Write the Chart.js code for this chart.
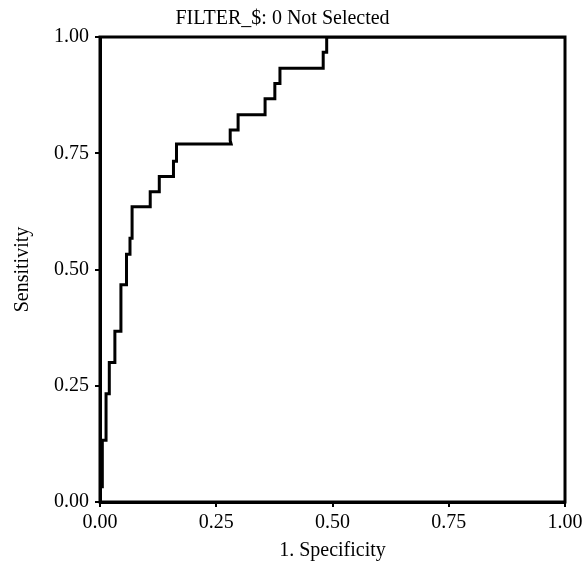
<!DOCTYPE html>
<html>
<head>
<meta charset="utf-8">
<script src="https://cdn.jsdelivr.net/npm/chart.js@4/dist/chart.umd.min.js"></script>
<style>
  html, body { margin: 0; padding: 0; background: #ffffff; }
  #wrap { width: 584px; height: 563px; }
</style>
</head>
<body>
<div id="wrap"><canvas id="c" width="584" height="563"></canvas></div>
<script>
// ROC curve corner points (1 - specificity, sensitivity)
const fpr = [0, 0, 0.005, 0.005, 0.013, 0.013, 0.020, 0.020, 0.032, 0.032, 0.045, 0.045,
             0.057, 0.057, 0.0645, 0.0645, 0.069, 0.069, 0.108, 0.108, 0.1275, 0.1275,
             0.158, 0.158, 0.1645, 0.1645, 0.282, 0.280, 0.280, 0.297, 0.297, 0.355, 0.355,
             0.376, 0.376, 0.387, 0.387, 0.480, 0.480, 0.4875, 0.4875, 1];
const tpr = [0, 0.033, 0.033, 0.133, 0.133, 0.233, 0.233, 0.300, 0.300, 0.367, 0.367, 0.467,
             0.467, 0.533, 0.533, 0.567, 0.567, 0.635, 0.635, 0.667, 0.667, 0.700,
             0.700, 0.733, 0.733, 0.770, 0.770, 0.777, 0.800, 0.800, 0.833, 0.833, 0.867,
             0.867, 0.900, 0.900, 0.933, 0.933, 0.967, 0.967, 1.000, 1.000];
const tickValues = [0, 0.25, 0.5, 0.75, 1];
const chartTitle = 'FILTER_$: 0 Not Selected';
const xTitle = '1. Specificity';
const yTitle = 'Sensitivity';

const FONT = 'Liberation Serif, Times New Roman, serif';

const framePlugin = {
  id: 'frame',
  afterDatasetsDraw(chart) {
    const a = chart.chartArea, ctx = chart.ctx;
    ctx.save();
    ctx.strokeStyle = '#000';
    ctx.lineWidth = 3;
    ctx.strokeRect(a.left, a.top, a.right - a.left, a.bottom - a.top);
    ctx.restore();
  }
};

const points = fpr.map((x, i) => ({ x: x, y: tpr[i] }));

new Chart(document.getElementById('c'), {
  type: 'scatter',
  data: {
    datasets: [{
      data: points,
      showLine: true,
      borderColor: '#000',
      borderWidth: 3,
      pointRadius: 0,
      tension: 0,
      fill: false
    }]
  },
  options: {
    responsive: false,
    animation: false,
    devicePixelRatio: 1,
    layout: { padding: { left: 0, right: 19, top: 0, bottom: 0 } },
    plugins: {
      legend: { display: false },
      tooltip: { enabled: false },
      title: {
        display: true,
        text: chartTitle,
        color: '#000',
        font: { family: FONT, size: 20, weight: 'normal' },
        padding: { top: 7, bottom: 6 }
      }
    },
    scales: {
      x: {
        type: 'linear',
        min: 0, max: 1,
        afterBuildTicks(s) { s.ticks = tickValues.map(v => ({ value: v })); },
        afterFit(s) { s.height = 61; s.paddingRight = 0; s.paddingLeft = 0; },
        ticks: {
          color: '#000',
          font: { family: FONT, size: 20 },
          padding: 4,
          maxRotation: 0,
          callback: v => Number(v).toFixed(2)
        },
        grid: { drawOnChartArea: false, tickLength: 5, color: '#000', lineWidth: 2 },
        border: { display: true, color: '#000', width: 3 },
        title: {
          display: true,
          text: xTitle,
          color: '#000',
          font: { family: FONT, size: 20 },
          padding: { top: 0, bottom: 0 }
        }
      },
      y: {
        type: 'linear',
        min: 0, max: 1,
        afterBuildTicks(s) { s.ticks = tickValues.map(v => ({ value: v })); },
        afterFit(s) { s.width = 100; },
        ticks: {
          color: '#000',
          font: { family: FONT, size: 20 },
          padding: 6,
          callback: v => Number(v).toFixed(2)
        },
        grid: { drawOnChartArea: false, tickLength: 5, color: '#000', lineWidth: 2 },
        border: { display: true, color: '#000', width: 3 },
        title: {
          display: true,
          text: yTitle,
          color: '#000',
          font: { family: FONT, size: 20 },
          padding: { top: 11, bottom: 0 }
        }
      }
    }
  },
  plugins: [framePlugin]
});
</script>
</body>
</html>
